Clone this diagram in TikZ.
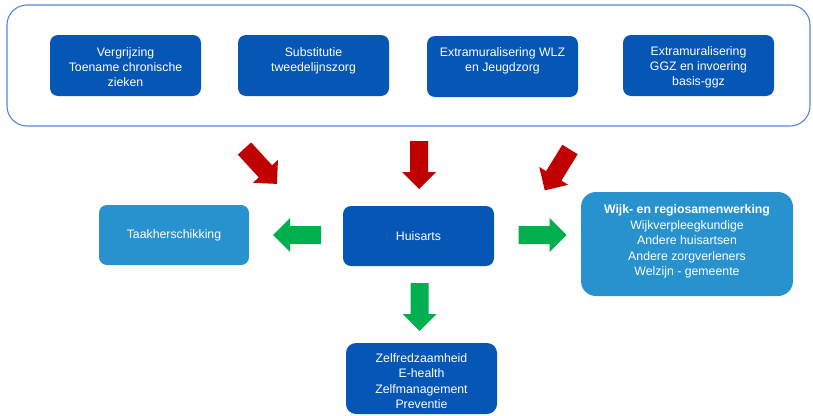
\documentclass[tikz,border=0pt]{standalone}
\usepackage{fontspec}
\setmainfont{Liberation Sans}
\definecolor{darkblue}{RGB}{6,86,182}
\definecolor{lightblue}{RGB}{40,146,206}
\definecolor{framecol}{RGB}{86,134,212}
\definecolor{redarrow}{RGB}{192,0,0}
\definecolor{greenarrow}{RGB}{0,176,80}
\tikzset{
  darkbox/.style={fill=darkblue, rounded corners=8pt, minimum width=151pt, minimum height=61pt, inner sep=0pt},
  lightbox/.style={fill=lightblue, rounded corners=8pt, minimum width=150pt, minimum height=60pt, inner sep=0pt},
  boxtext/.style={text=white, align=center, font=\fontsize{12.3}{15}\selectfont, inner sep=0pt},
  pics/blockarrow/.style={code={
    \fill (0,-9) -- (31,-9) -- (31,-17) -- (48,0) -- (31,17) -- (31,9) -- (0,9) -- cycle;
  }}
}
\begin{document}
\begin{tikzpicture}[x=1pt,y=-1pt]
\useasboundingbox (0,0) rectangle (813,415);
% outer frame
\node[draw=framecol, line width=1.1pt, rounded corners=20pt, minimum width=803pt, minimum height=121pt, inner sep=0pt] (frame) at (408.5,65.5) {};
% top boxes
\node[darkbox] (b1) at (125.5,65.5) {};
\node[darkbox] (b2) at (313.5,65.5) {};
\node[darkbox] (b3) at (502.5,66.5) {};
\node[darkbox] (b4) at (698.5,65.5) {};
\node[boxtext, anchor=north] (t1) at (125.5,47) {Vergrijzing\\Toename chronische\\zieken};
\node[boxtext, anchor=north] (t2) at (313.5,47) {Substitutie\\tweedelijnszorg};
\node[boxtext, anchor=north] (t3) at (502.5,47) {Extramuralisering WLZ\\en Jeugdzorg};
\node[boxtext, anchor=north] (t4) at (698.5,46) {Extramuralisering\\GGZ en invoering\\basis-ggz};
% middle row
\node[lightbox] (taak) at (174,235) {};
\node[boxtext] (taakt) at (174,235.5) {Taakherschikking};
\node[darkbox, minimum height=60pt] (huis) at (418.5,236) {};
\node[boxtext] (huist) at (418.5,236.5) {Huisarts};
\node[lightbox, rounded corners=15pt, minimum width=212pt, minimum height=104pt] (wijk) at (687,244) {};
\node[boxtext, font=\fontsize{12.3}{15.5}\selectfont] (wijkt) at (687,241.5) {\textbf{Wijk- en regiosamenwerking}\\Wijkverpleegkundige\\Andere huisartsen\\Andere zorgverleners\\Welzijn - gemeente};
% bottom
\node[darkbox, rounded corners=10pt, minimum height=71pt] (zelf) at (421.5,378.5) {};
\node[boxtext, font=\fontsize{12.3}{15.5}\selectfont] (zelft) at (421.5,381) {Zelfredzaamheid\\E-health\\Zelfmanagement\\Preventie};
% red arrows
\pic[redarrow, rotate=-47.5] at (244.5,148.5) {blockarrow};
\pic[redarrow, rotate=-90] at (419,141) {blockarrow};
\pic[redarrow, rotate=-121.7] at (570,149.5) {blockarrow};
% green arrows
\pic[greenarrow, rotate=180] at (321,235) {blockarrow};
\pic[greenarrow] at (518.5,235) {blockarrow};
\pic[greenarrow, rotate=-90] at (419.5,283) {blockarrow};
\end{tikzpicture}
\end{document}
